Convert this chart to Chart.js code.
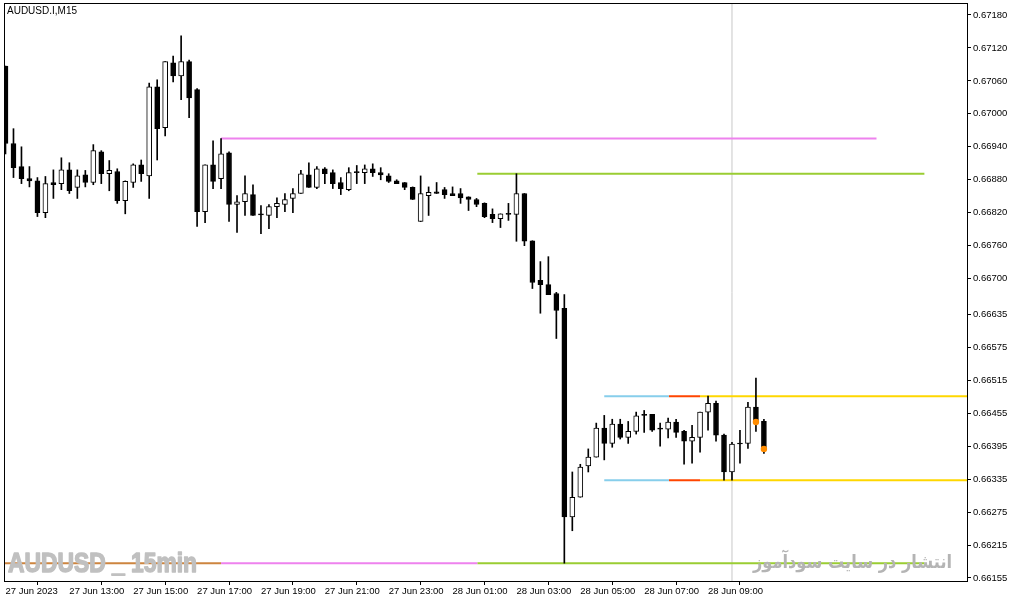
<!DOCTYPE html>
<html>
<head>
<meta charset="utf-8">
<script src="https://cdn.jsdelivr.net/npm/chart.js@4.4.0/dist/chart.umd.min.js"></script>
<style>
  html, body { margin: 0; padding: 0; background: #fff; }
  canvas { display: block; }
</style>
</head>
<body>
<canvas id="chart" width="1013" height="601"></canvas>
<script>
// AUDUSD.I M15, 27 Jun 11:00 -> 28 Jun 10:45
const openP = [
  0.67087, 0.66946, 0.66904, 0.66882, 0.66878, 0.66820, 0.66875, 0.66873, 0.66898, 0.66866,
  0.66889, 0.66875, 0.66931, 0.66891, 0.66895, 0.66842, 0.66875, 0.66907, 0.66887, 0.67049,
  0.66975, 0.67093, 0.67069, 0.67095, 0.67044, 0.66822, 0.66907, 0.66882, 0.66929, 0.66835,
  0.66840, 0.66853, 0.66817, 0.66815, 0.66831, 0.66835, 0.66846, 0.66855, 0.66889, 0.66866,
  0.66900, 0.66893, 0.66875, 0.66862, 0.66893, 0.66893, 0.66900, 0.66893, 0.66887, 0.66878,
  0.66875, 0.66866, 0.66804, 0.66851, 0.66858, 0.66862, 0.66855, 0.66855, 0.66849, 0.66844,
  0.66837, 0.66817, 0.66809, 0.66818, 0.66817, 0.66855, 0.66769, 0.66697, 0.66689, 0.66673,
  0.66646, 0.66266, 0.66302, 0.66359, 0.66375, 0.66428, 0.66400, 0.66435, 0.66411, 0.66422,
  0.66451, 0.66453, 0.66426, 0.66426, 0.66439, 0.66422, 0.66404, 0.66411, 0.66457, 0.66473,
  0.66415, 0.66348, 0.66399, 0.66400, 0.66466, 0.66440
];
const highP = [
  0.67087, 0.66973, 0.66940, 0.66904, 0.66884, 0.66886, 0.66898, 0.66920, 0.66911, 0.66898,
  0.66897, 0.66944, 0.66933, 0.66915, 0.66900, 0.66878, 0.66909, 0.66916, 0.67056, 0.67062,
  0.67095, 0.67105, 0.67142, 0.67098, 0.67046, 0.66907, 0.66951, 0.66955, 0.66931, 0.66851,
  0.66887, 0.66871, 0.66833, 0.66835, 0.66847, 0.66855, 0.66864, 0.66897, 0.66911, 0.66904,
  0.66902, 0.66898, 0.66884, 0.66902, 0.66906, 0.66907, 0.66909, 0.66902, 0.66891, 0.66880,
  0.66875, 0.66867, 0.66887, 0.66867, 0.66875, 0.66866, 0.66867, 0.66864, 0.66849, 0.66846,
  0.66838, 0.66827, 0.66818, 0.66837, 0.66891, 0.66855, 0.66769, 0.66731, 0.66740, 0.66675,
  0.66671, 0.66348, 0.66362, 0.66390, 0.66437, 0.66451, 0.66444, 0.66444, 0.66440, 0.66457,
  0.66460, 0.66453, 0.66437, 0.66446, 0.66444, 0.66424, 0.66433, 0.66457, 0.66486, 0.66477,
  0.66417, 0.66402, 0.66424, 0.66475, 0.66519, 0.66444
];
const lowP = [
  0.66927, 0.66884, 0.66873, 0.66867, 0.66813, 0.66811, 0.66846, 0.66862, 0.66855, 0.66846,
  0.66867, 0.66871, 0.66873, 0.66860, 0.66837, 0.66818, 0.66866, 0.66877, 0.66846, 0.66916,
  0.66960, 0.67058, 0.67026, 0.66993, 0.66795, 0.66802, 0.66864, 0.66864, 0.66804, 0.66784,
  0.66815, 0.66815, 0.66782, 0.66791, 0.66811, 0.66822, 0.66820, 0.66855, 0.66866, 0.66864,
  0.66873, 0.66864, 0.66853, 0.66860, 0.66873, 0.66873, 0.66886, 0.66880, 0.66875, 0.66873,
  0.66862, 0.66844, 0.66804, 0.66815, 0.66855, 0.66846, 0.66851, 0.66837, 0.66824, 0.66831,
  0.66811, 0.66802, 0.66793, 0.66806, 0.66768, 0.66760, 0.66682, 0.66637, 0.66671, 0.66591,
  0.66182, 0.66241, 0.66302, 0.66348, 0.66375, 0.66370, 0.66393, 0.66408, 0.66400, 0.66417,
  0.66420, 0.66422, 0.66395, 0.66410, 0.66411, 0.66362, 0.66364, 0.66384, 0.66424, 0.66404,
  0.66333, 0.66333, 0.66364, 0.66391, 0.66422, 0.66382
];
const closeP = [
  0.66946, 0.66902, 0.66882, 0.66878, 0.66820, 0.66873, 0.66871, 0.66898, 0.66860, 0.66887,
  0.66875, 0.66933, 0.66891, 0.66897, 0.66842, 0.66877, 0.66907, 0.66891, 0.67049, 0.66973,
  0.67095, 0.67069, 0.67095, 0.67029, 0.66822, 0.66907, 0.66877, 0.66927, 0.66835, 0.66840,
  0.66855, 0.66815, 0.66816, 0.66831, 0.66837, 0.66844, 0.66855, 0.66891, 0.66866, 0.66900,
  0.66891, 0.66873, 0.66864, 0.66893, 0.66893, 0.66900, 0.66893, 0.66889, 0.66877, 0.66873,
  0.66866, 0.66844, 0.66855, 0.66857, 0.66855, 0.66853, 0.66851, 0.66847, 0.66844, 0.66835,
  0.66813, 0.66809, 0.66818, 0.66817, 0.66855, 0.66768, 0.66693, 0.66689, 0.66671, 0.66642,
  0.66266, 0.66302, 0.66357, 0.66375, 0.66428, 0.66400, 0.66435, 0.66411, 0.66422, 0.66450,
  0.66451, 0.66424, 0.66426, 0.66439, 0.66420, 0.66404, 0.66411, 0.66457, 0.66473, 0.66415,
  0.66348, 0.66399, 0.66399, 0.66466, 0.66439, 0.66390
];

const timeLabels = [
  "27 Jun 2023", "27 Jun 13:00", "27 Jun 15:00", "27 Jun 17:00", "27 Jun 19:00", "27 Jun 21:00",
  "27 Jun 23:00", "28 Jun 01:00", "28 Jun 03:00", "28 Jun 05:00", "28 Jun 07:00", "28 Jun 09:00"
];
const barsPerLabel = 8;

const priceLabels = [
  "0.67180", "0.67120", "0.67060", "0.67000", "0.66940", "0.66880", "0.66820", "0.66760", "0.66700",
  "0.66635", "0.66575", "0.66515", "0.66455", "0.66395", "0.66335", "0.66275", "0.66215", "0.66155"
];

// level lines: [from bar, to bar, price]
const levelSegments = [
  [27, 109.1, 0.66955],
  [59.1, 115.1, 0.66891],
  [-1, 27, 0.66182],
  [27, 59.1, 0.66182],
  [59.1, 115.1, 0.66182],
  [75, 83.1, 0.66486],
  [83.1, 87, 0.66486],
  [87, 125, 0.66486],
  [75, 83.1, 0.66333],
  [83.1, 87, 0.66333],
  [87, 125, 0.66333]
];
const levelColors = ['#ee82ee', '#9acd32', '#cd853f', '#ee82ee', '#9acd32',
  '#87ceeb', '#ff4500', '#ffd700', '#87ceeb', '#ff4500', '#ffd700'];

const markerBars = [94, 95];
const cursorBar = 91;

const xMin = -0.1875, xMax = 120.4375;
const yMin = 0.661495, yMax = 0.67200;

const idx = openP.map((_, i) => i);
const bodyColor = idx.map(i => closeP[i] > openP[i] ? '#ffffff' : '#000000');

const datasets = [];
datasets.push({
  type: 'bar', label: 'body', order: 0,
  data: idx.map(i => ({ x: i, y: [openP[i], closeP[i]] })),
  backgroundColor: bodyColor, borderColor: '#000', borderWidth: 1, borderSkipped: false,
  barThickness: 5, minBarLength: 1, grouped: false
});
datasets.push({
  type: 'bar', label: 'wick', order: 1,
  data: idx.map(i => ({ x: i, y: [lowP[i], highP[i]] })),
  backgroundColor: '#000', borderWidth: 0, barThickness: 1, grouped: false
});
levelSegments.forEach((s, k) => {
  datasets.push({
    type: 'line', order: 2,
    data: [{ x: s[0], y: s[2] }, { x: s[1], y: s[2] }],
    borderColor: levelColors[k], borderWidth: 2, pointRadius: 0
  });
});
datasets.push({
  type: 'line', order: 3,
  data: [{ x: cursorBar, y: yMin }, { x: cursorBar, y: yMax }],
  borderColor: '#c8c8c8', borderWidth: 1, pointRadius: 0
});
datasets.push({
  type: 'scatter', order: -1,
  data: markerBars.map(i => ({ x: i, y: closeP[i] })),
  backgroundColor: '#ff8c00', borderWidth: 0, pointRadius: 3.2
});

// draw text squeezed to a given width (stroke thickens the glyphs)
function fitText(ctx, text, x, y, width, thick) {
  const w = ctx.measureText(text).width;
  ctx.save();
  ctx.translate(x, y);
  ctx.scale(width / w, 1);
  if (thick) {
    ctx.strokeStyle = ctx.fillStyle;
    ctx.lineWidth = thick;
    ctx.lineJoin = 'round';
    ctx.strokeText(text, 0, 0);
  }
  ctx.fillText(text, 0, 0);
  ctx.restore();
}

const overlay = {
  id: 'overlay',
  afterDatasetsDraw(chart) {
    const { ctx, chartArea: a } = chart;
    ctx.save();
    ctx.strokeStyle = '#000';
    ctx.lineWidth = 1;
    ctx.strokeRect(a.left + 0.5, a.top - 0.5, a.right - a.left, a.bottom - a.top + 1);

    ctx.fillStyle = '#000';
    ctx.font = '10px "Liberation Sans", Arial, sans-serif';
    ctx.textBaseline = 'middle';
    ctx.textAlign = 'left';
    ctx.fillText('AUDUSD.I,M15', 7, 11);

    ctx.fillStyle = '#c0c0c0';
    ctx.font = 'bold 28px "Liberation Sans", sans-serif';
    ctx.textBaseline = 'alphabetic';
    fitText(ctx, 'AUDUSD _ 15min', 8, 572, 189, 1.5);

    ctx.fillStyle = '#b4b4b4';
    ctx.font = 'bold 19px "DejaVu Sans", sans-serif';
    ctx.direction = 'rtl';
    ctx.textAlign = 'left';
    fitText(ctx, 'انتشار در سایت سودآموز', 753, 568, 199, 0);
    ctx.restore();
  }
};

const axisFont = { family: '"Liberation Sans", Arial, sans-serif', size: 9.5 };

new Chart(document.getElementById('chart'), {
  type: 'bar',
  data: { datasets },
  options: {
    responsive: false,
    animation: false,
    layout: { padding: { left: 2, top: 3, right: 0, bottom: 0 } },
    plugins: { legend: { display: false }, tooltip: { enabled: false } },
    scales: {
      x: {
        type: 'linear', min: xMin, max: xMax, offset: false,
        afterBuildTicks: s => { s.ticks = timeLabels.map((t, k) => ({ value: k * barsPerLabel })); },
        afterFit: s => { s.height = 20; s.paddingLeft = 0; s.paddingRight = 0; },
        ticks: {
          autoSkip: false, maxRotation: 0, align: 'start', padding: 1, color: '#000', font: axisFont,
          callback: (v, k) => timeLabels[k]
        },
        grid: { drawOnChartArea: false, tickLength: 4, color: '#000' },
        border: { color: '#000' }
      },
      y: {
        position: 'right', min: yMin, max: yMax,
        afterBuildTicks: s => { s.ticks = priceLabels.map(p => ({ value: parseFloat(p) })); },
        afterFit: s => { s.width = 46; s.paddingTop = 0; s.paddingBottom = 0; },
        ticks: {
          autoSkip: false, padding: 2, color: '#000', font: axisFont,
          callback: (v, k) => priceLabels[k]
        },
        grid: { drawOnChartArea: false, tickLength: 4, color: '#000' },
        border: { color: '#000' }
      }
    }
  },
  plugins: [overlay]
});
</script>
</body>
</html>
